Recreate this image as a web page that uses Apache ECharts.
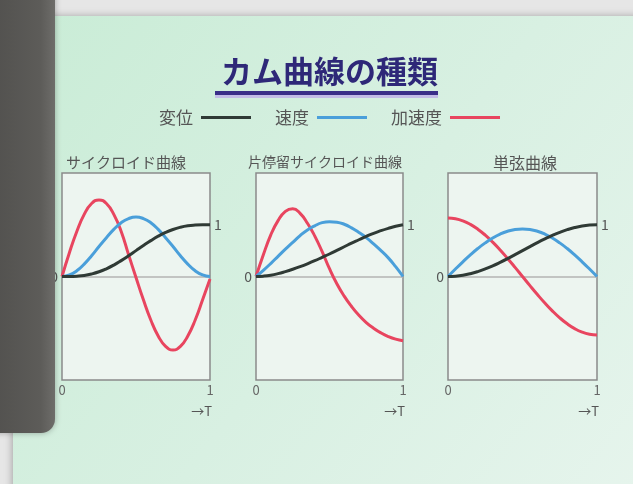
<!DOCTYPE html>
<html>
<head>
<meta charset="utf-8">
<script src="https://cdn.jsdelivr.net/npm/echarts@6/dist/echarts.min.js"></script>
<style>
html,body{margin:0;padding:0;background:#e8e8e8;}
#chart{width:633px;height:484px;}
</style>
</head>
<body>
<div id="chart"></div>
<script>
// ---- data ----
const T = [0,0.05,0.1,0.15,0.2,0.25,0.3,0.35,0.4,0.45,0.5,0.55,0.6,0.65,0.7,0.75,0.8,0.85,0.9,0.95,1];
const seriesNames = ['変位','速度','加速度'];
const panelTitles = ['サイクロイド曲線','片停留サイクロイド曲線','単弦曲線'];
const xTickLabels = ['0','1'];
const axisNameT = '→T';

// サイクロイド曲線
const cycDisp = [0,0.001,0.007,0.021,0.049,0.091,0.149,0.221,0.307,0.401,0.5,0.599,0.693,0.779,0.851,0.909,0.951,0.979,0.993,0.999,1];
const cycVel  = [0,0.03,0.11,0.24,0.40,0.58,0.75,0.91,1.04,1.12,1.15,1.12,1.04,0.91,0.75,0.58,0.40,0.24,0.11,0.03,0];
const cycAcc  = [0,0.46,0.87,1.20,1.41,1.48,1.41,1.20,0.87,0.42,-0.02,-0.45,-0.84,-1.15,-1.35,-1.42,-1.35,-1.15,-0.84,-0.45,-0.05];

// 片停留サイクロイド曲線
const halfDisp = [0,0.007,0.025,0.055,0.095,0.14,0.19,0.245,0.305,0.37,0.435,0.505,0.575,0.645,0.71,0.775,0.835,0.885,0.93,0.97,1];
const halfVel  = [0,0.12,0.25,0.39,0.53,0.66,0.79,0.90,0.98,1.04,1.06,1.05,1.01,0.94,0.85,0.75,0.63,0.50,0.36,0.19,0];
const halfAcc  = [0,0.42,0.80,1.08,1.26,1.31,1.22,1.03,0.78,0.48,0.15,-0.14,-0.38,-0.58,-0.75,-0.89,-1.00,-1.09,-1.16,-1.21,-1.24];

// 単弦曲線
const harmDisp = [0,0.006,0.024,0.054,0.095,0.146,0.206,0.273,0.345,0.422,0.5,0.578,0.655,0.727,0.794,0.854,0.905,0.946,0.976,0.994,1];
const harmVel  = [0,0.144,0.284,0.418,0.541,0.650,0.744,0.820,0.875,0.909,0.92,0.909,0.875,0.820,0.744,0.650,0.541,0.418,0.284,0.144,0];
const harmAcc  = [1.13,1.116,1.075,1.007,0.914,0.799,0.664,0.513,0.349,0.177,0,-0.177,-0.349,-0.513,-0.664,-0.799,-0.914,-1.007,-1.075,-1.116,-1.13];

const panels = [
  [cycDisp, cycVel, cycAcc],
  [halfDisp, halfVel, halfAcc],
  [harmDisp, harmVel, harmAcc]
];

// ---- layout & style ----
const colors = ['#2f3a35', '#4a9fda', '#e8455f'];
const grids = [
  {left: 62, width: 148},
  {left: 256, width: 147},
  {left: 448, width: 149}
];
const subtitleCenters = [121, 320, 520];
const subtitleSizes = [15, 14, 16];
const gridTop = 173, gridHeight = 207;
const FONT = '"Noto Sans CJK JP", "Noto Sans", sans-serif';

const pair = arr => T.map((t, i) => [t, arr[i]]);

const option = {
  animation: false,
  backgroundColor: '#e8e8e8',
  textStyle: {fontFamily: FONT},
  title: [
    {text: 'カム曲線の種類', left: 216, top: 51,
     textStyle: {fontSize: 31, fontWeight: 'bold', color: '#2e2878', fontFamily: FONT}}
  ].concat(panelTitles.map((t, i) => ({
    text: t, left: subtitleCenters[i], top: 150, textAlign: 'center',
    textStyle: {fontSize: subtitleSizes[i], fontWeight: 'normal', color: '#555', fontFamily: FONT}
  }))),
  legend: {
    data: seriesNames,
    left: 154, top: 104,
    align: 'right',
    icon: 'rect',
    itemWidth: 50, itemHeight: 3,
    itemGap: 24,
    textStyle: {fontSize: 17, color: '#555', padding: [0, 3, 0, 0], fontFamily: FONT}
  },
  grid: grids.map(g => ({
    left: g.left, width: g.width, top: gridTop, height: gridHeight,
    show: true, borderColor: '#8a8a8a', borderWidth: 1.5, backgroundColor: '#edf5f0'
  })),
  xAxis: grids.map((g, i) => ({
    type: 'value', gridIndex: i, min: 0, max: 1, interval: 1,
    axisLine: {show: false}, axisTick: {show: false}, splitLine: {show: false},
    axisLabel: {color: '#666', fontSize: 13, margin: 4,
      formatter: v => xTickLabels[v] !== undefined ? xTickLabels[v] : ''}
  })),
  yAxis: grids.flatMap((g, i) => ([
    {type: 'value', gridIndex: i, min: -2, max: 2, interval: 1, position: 'left',
     axisLine: {show: false}, axisTick: {show: false}, splitLine: {show: false},
     axisLabel: {color: '#555', fontSize: 14, margin: 4, formatter: v => v === 0 ? '0' : ''}},
    {type: 'value', gridIndex: i, min: -2, max: 2, interval: 1, position: 'right',
     axisLine: {show: false}, axisTick: {show: false}, splitLine: {show: false},
     axisLabel: {color: '#555', fontSize: 14, margin: 4, formatter: v => v === 1 ? '1' : ''}}
  ])),
  series: panels.flatMap((p, i) => p.map((arr, k) => {
    const s = {
      name: seriesNames[k], type: 'line', xAxisIndex: i, yAxisIndex: i * 2,
      data: pair(arr), smooth: true, showSymbol: false, symbol: 'none',
      lineStyle: {color: colors[k], width: 3}, itemStyle: {color: colors[k]},
      z: 3 + (k === 0 ? 2 : k === 1 ? 1 : 0)
    };
    if (k === 0) {
      s.markLine = {
        silent: true, symbol: 'none', label: {show: false},
        lineStyle: {color: '#b3b3b3', width: 1.5, type: 'solid'},
        data: [{yAxis: 0}], z: 1
      };
    }
    return s;
  })),
  graphic: [
    {type: 'rect', z: -100, shape: {x: 0, y: 0, width: 633, height: 484},
     style: {fill: '#e6e6e6'}},
    {type: 'rect', z: -99, shape: {x: 13, y: 16, width: 660, height: 520, r: 24},
     style: {fill: {type: 'linear', x: 0, y: 0, x2: 1, y2: 1, colorStops: [
       {offset: 0, color: '#c9ecd6'}, {offset: 0.5, color: '#d8f0e2'}, {offset: 1, color: '#e8f5ee'}]},
       shadowBlur: 8, shadowColor: 'rgba(0,0,0,0.35)', shadowOffsetY: 1}},
    {type: 'rect', z: 5, shape: {x: 215, y: 95, width: 223, height: 3},
     style: {fill: '#c3bce6'}},
    {type: 'rect', z: 6, shape: {x: 215, y: 91, width: 223, height: 4},
     style: {fill: '#3a2e88'}},
    {type: 'rect', z: 100, shape: {x: -40, y: -40, width: 95, height: 473, r: 14},
     style: {fill: {type: 'linear', x: 0, y: 0, x2: 1, y2: 0, colorStops: [
       {offset: 0, color: '#4a4947'}, {offset: 0.85, color: '#5d5c59'}, {offset: 1, color: '#6e6d6a'}]},
       shadowBlur: 6, shadowColor: 'rgba(0,0,0,0.3)'}}
  ].concat(grids.map(g => ({
    type: 'text', z: 10,
    style: {text: axisNameT, x: g.left + g.width + 2, y: 411, align: 'right', verticalAlign: 'middle',
            fill: '#555', fontSize: 13, fontFamily: FONT}
  })))
};

const chart = echarts.init(document.getElementById('chart'));
chart.setOption(option);
</script>
</body>
</html>
